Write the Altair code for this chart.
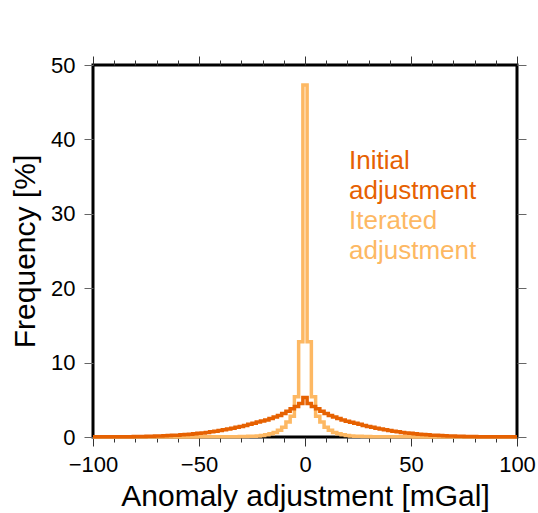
import altair as alt
import pandas as pd

# Bin centres (2 mGal bins) and frequencies [%]
bin_centers = list(range(-100, 101, 2))

initial = [
    0.02, 0.02, 0.02, 0.03, 0.03, 0.03, 0.04, 0.04, 0.05, 0.05,
    0.06, 0.07, 0.08, 0.09, 0.10, 0.12, 0.14, 0.16, 0.19, 0.22,
    0.25, 0.29, 0.33, 0.38, 0.43, 0.49, 0.55, 0.62, 0.70, 0.78,
    0.87, 0.97, 1.07, 1.18, 1.30, 1.42, 1.55, 1.70, 1.85, 2.00,
    2.15, 2.30, 2.50, 2.70, 2.90, 3.15, 3.45, 3.80, 4.10, 4.50,
    5.30,
    4.50, 4.10, 3.80, 3.45, 3.15, 2.90, 2.68, 2.48, 2.30, 2.13,
    1.98, 1.84, 1.70, 1.55, 1.42, 1.30, 1.18, 1.07, 0.97, 0.87,
    0.78, 0.70, 0.62, 0.55, 0.49, 0.43, 0.38, 0.33, 0.29, 0.25,
    0.22, 0.19, 0.16, 0.14, 0.12, 0.10, 0.09, 0.08, 0.07, 0.06,
    0.05, 0.05, 0.04, 0.04, 0.03, 0.03, 0.03, 0.02, 0.02, 0.02,
]

iterated = [
    0.00, 0.00, 0.00, 0.00, 0.00, 0.00, 0.00, 0.00, 0.00, 0.00,
    0.01, 0.01, 0.01, 0.01, 0.01, 0.01, 0.01, 0.01, 0.01, 0.01,
    0.01, 0.01, 0.01, 0.01, 0.01, 0.02, 0.02, 0.02, 0.02, 0.03,
    0.03, 0.03, 0.04, 0.04, 0.05, 0.06, 0.07, 0.09, 0.11, 0.14,
    0.20, 0.30, 0.45, 0.62, 0.90, 1.30, 2.00, 2.80, 5.40, 12.80,
    47.30,
    12.80, 5.40, 2.80, 2.00, 1.30, 0.90, 0.62, 0.45, 0.30, 0.20,
    0.14, 0.11, 0.09, 0.07, 0.06, 0.05, 0.04, 0.04, 0.03, 0.03,
    0.03, 0.02, 0.02, 0.02, 0.02, 0.01, 0.01, 0.01, 0.01, 0.01,
    0.01, 0.01, 0.01, 0.01, 0.01, 0.01, 0.01, 0.01, 0.01, 0.01,
    0.00, 0.00, 0.00, 0.00, 0.00, 0.00, 0.00, 0.00, 0.00, 0.00,
]

series_labels = ["Initial\nadjustment", "Iterated\nadjustment"]
series_colors = ["#e66101", "#fdb863"]

x_ticks = list(range(-100, 101, 10))
y_ticks = list(range(0, 51, 10))

df_init = pd.DataFrame({"x": bin_centers, "freq": initial})
df_iter = pd.DataFrame({"x": bin_centers, "freq": iterated})

FONT = "Liberation Sans"
xscale = alt.Scale(domain=[-100, 100], nice=False, zero=False)
yscale = alt.Scale(domain=[0, 50], nice=False)

tick_cond = {"condition": {"test": "datum.value % 50 === 0", "value": 9}, "value": 5}

x_bottom = alt.Axis(
    orient="bottom", values=x_ticks,
    labelExpr="datum.value % 50 === 0 ? datum.label : ''",
    labelFlush=False, labelOverlap=False,
    tickSize=tick_cond, tickColor="#333", tickWidth=1,
    labelPadding=8, title="Anomaly adjustment [mGal]", titlePadding=6,
)
y_left = alt.Axis(
    orient="left", values=y_ticks, tickSize=9, tickColor="#666",
    labelFlush=False, labelPadding=9, title="Frequency [%]", titlePadding=10,
)
x_top = alt.Axis(
    orient="top", values=x_ticks, labels=False, title=None,
    tickSize=tick_cond, tickColor="#333",
)
y_right = alt.Axis(
    orient="right", values=y_ticks, labels=False, title=None,
    tickSize=9, tickColor="#666",
)

iter_line = alt.Chart(df_iter).mark_line(
    interpolate="step", strokeWidth=3.5, color=series_colors[1], strokeCap="butt"
).encode(
    x=alt.X("x:Q", scale=xscale, axis=x_bottom),
    y=alt.Y("freq:Q", scale=yscale, axis=y_left),
)

init_line = alt.Chart(df_init).mark_line(
    interpolate="step", strokeWidth=3.5, color=series_colors[0], strokeCap="butt"
).encode(
    x=alt.X("x:Q", scale=xscale, axis=x_top),
    y=alt.Y("freq:Q", scale=yscale, axis=y_right),
)

txt1 = alt.Chart(pd.DataFrame({"t": [series_labels[0]]})).mark_text(
    align="left", baseline="alphabetic", font=FONT, fontSize=26,
    lineHeight=30, lineBreak="\n", color=series_colors[0],
).encode(text="t:N", x=alt.value(256), y=alt.value(104))

txt2 = alt.Chart(pd.DataFrame({"t": [series_labels[1]]})).mark_text(
    align="left", baseline="alphabetic", font=FONT, fontSize=26,
    lineHeight=30, lineBreak="\n", color=series_colors[1],
).encode(text="t:N", x=alt.value(256), y=alt.value(164))

chart = alt.layer(iter_line, init_line, txt1, txt2).resolve_axis(
    x="independent", y="independent"
).properties(
    width=424, height=372,
    autosize=alt.AutoSizeParams(type="none"),
    padding={"left": 93, "top": 65, "right": 21, "bottom": 76},
    background="white",
).configure_axis(
    grid=False, domain=False,
    labelFont=FONT, labelFontSize=22, labelColor="black",
    titleFont=FONT, titleFontSize=30, titleFontWeight="normal", titleColor="black",
).configure_view(
    stroke="black", strokeWidth=3,
)

chart.save("out.html", embed_options={"renderer": "svg", "actions": False})
